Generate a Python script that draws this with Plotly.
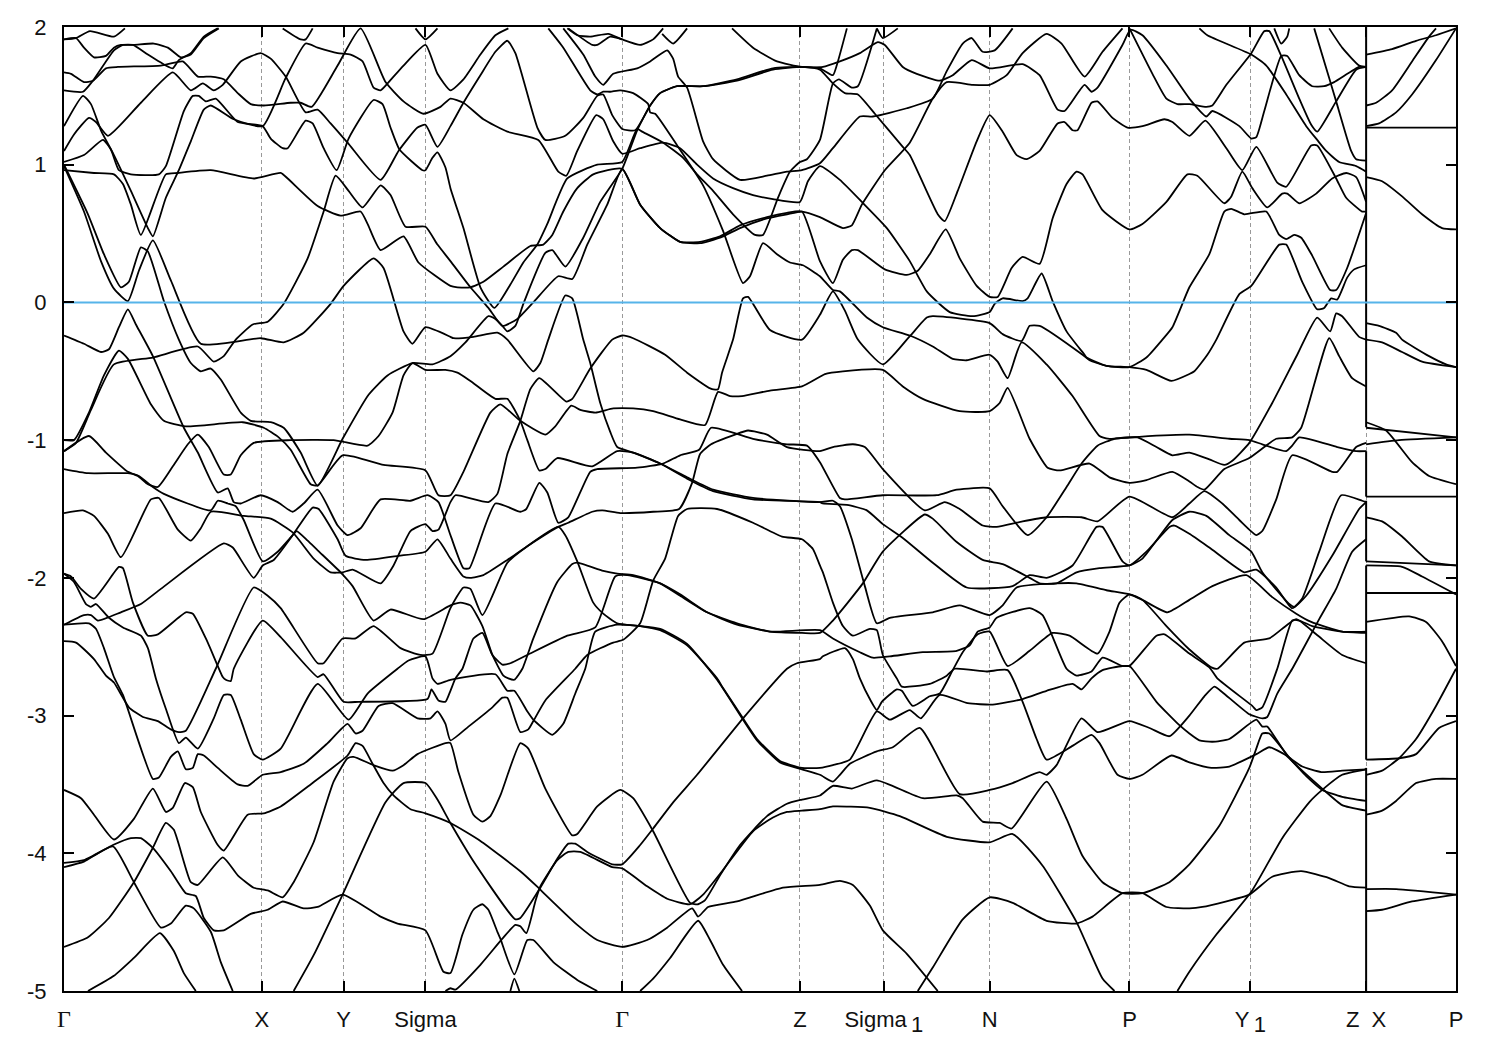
import plotly.graph_objects as go

# Each band is a list of (path position, energy in eV) readings.
band_01 = [(63,1.91),(75,1.92),(89,1.97),(113,1.93),(124,1.99)]
band_02 = [(63,1.91),(75,1.92),(83,1.85),(93,1.78),(105,1.79),(113,1.85),(120,1.87),(133,1.87),(153,1.88),(167,1.85),(180,1.78),(190,1.80),(203,1.92),(218,1.99)]
band_03 = [(63,1.54),(82,1.53),(93,1.62),(113,1.83),(122,1.87),(132,1.87),(147,1.80),(165,1.72),(172,1.70),(178,1.76),(190,1.81),(203,1.93),(217,1.99)]
band_04 = [(63,1.67),(70,1.66),(83,1.60),(92,1.61),(105,1.70),(117,1.71),(160,1.72),(182,1.75),(197,1.64),(210,1.64),(223,1.62),(237,1.52),(250,1.44),(263,1.43),(290,1.45),(300,1.45),(311,1.42),
           (337,1.72),(360,1.99),(385,1.60),(403,1.46),(423,1.37),(440,1.42),(450,1.48),
           (463,1.45),(483,1.33),(507,1.24),(538,1.18),(558,.95),(566,.92),(577,1.10),(596,1.36),(603,1.33),(613,1.17),(622,1.08),(640,1.12),(663,1.16),(680,1.12),(697,1.0),(713,.90),(733,.83),(753,.78),(773,.75),(800,.73),(808,.88),(820,.99),
           (840,.89),(862,.73),(887,.54),(910,.30),(927,.08),(950,-.07),(973,-.10),(990,-.07),(995,-.01),(1003,.03),(1023,.01),(1028,.03),(1042,.21),(1053,.01),(1067,-.21),(1085,-.38),(1087,-.40),(1107,-.46),(1130,-.47),(1147,-.40),(1163,-.27),(1173,-.18),(1190,.11),
           (1210,.35),(1225,.66),(1232,.68),(1245,.64),(1267,.66),(1280,.49),(1287,.46),(1295,.49),(1302,.47),(1313,.34),(1331,.09),(1337,.09),(1348,.25),(1367,.65)]
band_05 = [(63,1.28),(82,1.50),(90,1.44),(100,1.25),(113,1.07),(130,.81),(147,.54),(152,.48),(165,.76),(178,.96),(190,1.17),(203,1.40),(210,1.43),(233,1.33),(262,1.28),
           (285,1.63),(305,1.88),(317,1.85),(337,1.81),(350,1.80),(362,1.75),(373,1.56),(380,1.54),(387,1.59),(403,1.72),(425,1.87),(437,1.66),(450,1.54),(463,1.62),(480,1.80),(495,1.94),(508,1.99)]
band_06 = [(63,1.02),(83,1.07),(102,1.18),(110,1.11),(118,.96),(130,.93),(158,.93),(165,.99),(183,1.39),(192,1.50),(198,1.50),(205,1.46),(215,1.48),(237,1.31),(262,1.28),
           (270,1.19),(282,1.12),(287,1.12),(305,1.32),(312,1.30),(323,1.12),(336,.96),(348,1.19),(373,1.47),(382,1.44),(390,1.27),(399,1.11),(422,.96),(425,.96),(432,1.05),(437,1.09),(445,.98),(450,.83),
           (463,.54),(480,.11),(494,-.04),(510,.13),(523,.29),(537,.42),(547,.57),(567,.90),(597,1.0),(622,1.02),(637,1.26),(642,1.24),(663,1.16),(683,1.05),(697,.93),(713,.81),(733,.64),(755,.49),(763,.49),(778,.76),(790,.95),(800,1.02),(807,1.04),(820,1.18),
           (833,1.59),(839,1.62),(852,1.56),(858,1.57),(877,1.99)]
band_07 = [(877,1.99),(883,1.92),(898,1.99)]
band_08 = [(63,.96),(93,.94),(113,.93),(122,.86),(130,.71),(140,.49),(165,.93),(177,.94),(210,.96),(253,.90),(280,.94),(287,.90),(317,.70),(340,.63),(360,.66),(367,.57),(380,.38),(403,.48),(418,.29),(450,.12),
           (457,.11),(470,.11),(483,.15),(503,.26),(530,.41),(543,.42),(552,.49),(563,.66),(577,.83),(593,.93),(622,.97),(640,.71),(660,.54),(680,.44),(700,.44),(720,.48),(740,.56),(767,.62),(787,.65),(802,.66),
           (820,.30),(833,.14),(843,.31),(852,.38),(858,.38),(885,.24),(907,.20),(918,.23),(930,.35),(946,.53),(960,.32),(977,.12),(990,.04),(998,.04),(1012,.25),(1023,.33),(1040,.28),(1053,.61),(1067,.86),(1077,.95),(1083,.93),(1103,.67),(1130,.53),(1143,.57),(1167,.73),(1188,.93),
           (1198,.92),(1225,.72),(1232,.77),(1243,.95),(1253,.83),(1268,.69),(1283,.79),(1288,.79),(1300,.72),(1317,.79),(1333,.90),(1347,.94),(1357,.91),(1367,.73)]
band_09 = [(63,1.10),(73,1.22),(88,1.34),(95,1.31),(107,1.21),(140,1.45),(172,1.67),(190,1.54),(202,1.59),(213,1.54),(222,1.58),(240,1.75),(260,1.81),(270,1.77),(285,1.64),(305,1.38),(317,1.40),(330,1.30),(347,1.16),(380,.89),(398,1.10),(417,1.27),(425,1.29),(437,1.13),(450,1.28),
           (463,1.45),(480,1.65),(495,1.82),(507,1.90),(515,1.81),(537,1.27),(545,1.18),(565,1.21),(583,1.34),(597,1.50),(603,1.51),(612,1.36),(622,1.26),(635,1.25),(650,1.43),(660,1.52),(677,1.57),(703,1.57),(737,1.62),(773,1.70),(802,1.71),(820,1.69),
           (833,1.59),(845,1.52),(858,1.51),(875,1.37),(903,1.13),(910,1.07),(938,.64),(945,.59),(958,.81),(977,1.17),(990,1.36),(1003,1.24),(1017,1.07),(1027,1.04),(1040,1.10),(1058,1.30),(1065,1.31),(1073,1.25),(1078,1.25),(1092,1.45),(1098,1.46),(1113,1.34),(1128,1.27),(1143,1.28),(1165,1.33),(1173,1.31),(1190,1.21),
           (1206,1.32),(1227,1.12),(1243,.96),(1257,1.13),(1278,.87),(1287,.84),(1312,1.14),(1318,1.14),(1337,.90),(1347,.76),(1363,.66),(1367,.66)]
band_10 = [(63,-1.08),(75,-1.02),(90,-.78),(113,-.45),(152,-.40),(197,-.32),(213,-.43),(223,-.39),(235,-.27),(252,-.16),(267,-.14),(283,-.01),(307,.32),(323,.66),(335,.92),(348,.81),(362,.69),(380,.85),(390,.78),(405,.55),(425,.55),(437,.42),(450,.30),
           (470,.11),(488,-.04),(502,-.17),(517,-.12),(533,0),(558,.19),(572,.17),(587,.42),(607,.71),(622,.97),(640,.71),(660,.54),(680,.44),(700,.43),(720,.47),(740,.54),(767,.61),(787,.64),(802,.66),(820,.62),
           (843,.54),(852,.56),(862,.71),(885,.96),(910,1.16),(933,1.48),(947,1.60),(973,1.58),(990,1.58),(1007,1.65),(1023,1.81),(1047,1.95),(1062,1.88),(1085,1.64),(1103,1.82),(1123,1.99)]
band_11 = [(63,.99),(83,.66),(100,.30),(113,.10),(127,.01),(138,.23),(152,.45),(170,.16),(200,-.30),(260,-.26),(283,-.29),(303,-.22),(330,-.01),(343,.12),(373,.32),(383,.25),(403,-.21),(412,-.30),(425,-.18),(450,-.25),
           (453,-.26),(473,-.25),(497,-.22),(507,-.27),(533,-.50),(540,-.44),(548,-.27),(565,.05),(572,.03),(583,-.27),(590,-.44),(600,-.73),(610,-.94),(617,-1.05),(633,-1.09),(660,-1.17),(687,-1.27),(713,-1.36),(753,-1.42),(820,-1.45),
           (833,-1.44),(840,-1.48),(852,-1.72),(865,-2.06),(877,-2.33),(890,-2.29),(933,-2.25),(960,-2.20),(990,-2.27),(1003,-2.20),(1017,-2.07),(1057,-2.04),(1077,-2.04),(1107,-2.09),(1130,-2.12),(1143,-2.16),(1168,-2.25),(1190,-2.16),
           (1213,-2.06),(1247,-1.98),(1273,-2.14),(1297,-2.26),(1312,-2.32),(1343,-2.39),(1367,-2.39)]
band_12 = [(63,1.0),(87,.64),(103,.35),(120,.11),(128,.15),(140,.40),(147,.37),(163,.01),(178,-.27),(190,-.44),(200,-.50),(210,-.48),(220,-.56),(240,-.80),(250,-.86),(270,-.87),(283,-.91),(300,-1.09),(317,-1.33),(342,-.99),(368,-.67),(387,-.53),(412,-.44),(432,-.45),(450,-.39),
           (465,-.29),(488,-.10),(495,-.12),(502,-.17),(507,-.21),(515,-.17),(523,-.01),(545,.36),(552,.38),(565,.26),(583,.47),(600,.73),(622,.97),(637,1.25),(650,1.43),(660,1.52),(677,1.57),(703,1.57),(737,1.61),(773,1.69),(802,1.71),(820,1.70),(833,1.65),(838,1.75),(847,1.99)]
band_13 = [(63,-.24),(83,-.30),(100,-.36),(108,-.34),(118,-.18),(127,-.05),(135,-.16),(152,-.39),(183,-.91),(197,-1.09),(217,-1.38),(227,-1.35),(233,-1.45),(240,-1.46),(260,-1.40),(277,-1.45),(292,-1.52),(303,-1.46),(317,-1.36),(337,-1.62),(347,-1.69),(360,-1.64),(380,-1.43),(410,-1.44),(427,-1.40),(438,-1.45),(450,-1.69),
           (463,-1.93),(469,-1.93),(495,-1.46),(520,-1.52),(526,-1.50),(539,-1.31),(547,-1.38),(558,-1.60),(568,-1.56),(590,-1.23),(597,-1.21),(637,-1.20),(663,-1.17),(680,-1.11),(699,-1.07),(711,-.91),(753,-.99),(787,-1.03),(807,-1.04),(820,-1.16),
           (840,-1.42),(845,-1.43),(883,-1.40),(937,-1.40),(957,-1.36),(990,-1.35),(1003,-1.48),(1028,-1.69),(1047,-1.56),(1067,-1.34),(1082,-1.17),(1098,-1.04),(1115,-.99),(1130,-.98),(1190,-.96),
           (1230,-.99),(1250,-1.0),(1263,-1.03),(1287,-1.08),(1293,-1.04),(1300,-.98),(1338,-1.05),(1357,-1.08),(1367,-1.08)]
band_14 = [(63,-1.08),(88,-.97),(105,-1.09),(127,-1.23),(137,-1.26),(147,-1.32),(157,-1.34),(172,-1.19),(187,-1.03),(197,-.96),(208,-1.05),(223,-1.25),(230,-1.25),(240,-1.11),(253,-1.02),(290,-1.0),(333,-1.0),(367,-1.04),(378,-.97),(392,-.80),(403,-.53),(412,-.44),
           (425,-.49),(445,-.49),(457,-.51),(470,-.57),(495,-.70),(507,-.70),(520,-.86),(527,-1.0),(539,-1.22),(545,-1.21),(557,-1.13),(592,-1.19),(617,-1.08),(633,-1.09),(660,-1.17),(687,-1.28),(713,-1.37),(753,-1.43),(820,-1.45),
           (823,-1.46),(847,-1.47),(867,-1.51),(883,-1.61),(903,-1.71),(933,-1.89),(967,-2.07),(1013,-2.06),(1030,-1.98),(1047,-2.0),(1073,-1.91),(1097,-1.63),(1103,-1.63),(1123,-1.88),(1130,-1.91),(1147,-1.81),(1170,-1.63),(1175,-1.62),(1190,-1.68),
           (1210,-1.78),(1245,-1.96),(1257,-1.94),(1277,-2.07),(1293,-2.22),(1307,-2.13),(1333,-1.84),(1360,-1.50),(1367,-1.45)]
band_15 = [(63,-1.0),(73,-1.0),(88,-.80),(103,-.53),(118,-.35),(127,-.41),(150,-.74),(163,-.86),(185,-.90),(242,-.87),(263,-.91),(278,-.98),(290,-1.07),(310,-1.32),(317,-1.33),(342,-1.11),(383,-1.18),(425,-1.22),(438,-1.40),(450,-1.40),
           (463,-1.23),(490,-.80),(500,-.74),(520,-.86),(545,-.96),(555,-.90),(571,-.75),(580,-.78),(595,-.80),(613,-.77),(633,-.77),(653,-.79),(680,-.85),(705,-.89),(718,-.65),(730,-.68),(742,-.68),(770,-.64),(802,-.61),(820,-.54),
           (825,-.52),(843,-.50),(883,-.49),(903,-.61),(923,-.70),(960,-.79),(990,-.79),(1000,-.73),(1008,-.62),(1030,-.99),(1048,-1.20),(1060,-1.22),(1090,-1.17),(1110,-1.27),(1130,-1.31),(1147,-1.29),(1173,-1.23),(1190,-1.30),
           (1198,-1.34),(1205,-1.36),(1225,-1.21),(1250,-1.13),(1277,-.99),(1293,-.98),(1302,-.91),(1330,-.26),(1340,-.39),(1353,-.55),(1367,-.61)]
band_16 = [(63,-1.21),(87,-1.24),(127,-1.24),(138,-1.26),(152,-1.34),(163,-1.39),(210,-1.51),(217,-1.44),(227,-1.46),(235,-1.48),(243,-1.58),(262,-1.88),(277,-1.81),(292,-1.69),(296,-1.66),(307,-1.73),(317,-1.80),(340,-1.96),(352,-2.06),(373,-2.31),(390,-2.23),(423,-2.30),(450,-2.20),
           (460,-2.18),(470,-2.20),(482,-2.35),(492,-2.56),(503,-2.71),(508,-2.73),(514,-2.74),(522,-2.66),(533,-2.44),(557,-2.03),(572,-1.90),(577,-1.89),(603,-1.95),(617,-1.97),(633,-1.98),(660,-2.04),(680,-2.13),(707,-2.25),(737,-2.33),(770,-2.39),(820,-2.38),
           (833,-2.44),(860,-2.54),(873,-2.58),(890,-2.57),(923,-2.54),(957,-2.53),(970,-2.49),(978,-2.39),(990,-2.36),(997,-2.29),(1030,-2.22),(1043,-2.27),(1067,-2.66),(1077,-2.71),(1092,-2.68),(1103,-2.58),(1123,-2.64),(1130,-2.64),(1157,-2.90),(1180,-3.07),(1190,-3.13),
           (1200,-3.18),(1213,-3.19),(1230,-3.17),(1257,-3.03),(1263,-3.08),(1268,-3.08),(1288,-3.29),(1303,-3.37),(1322,-3.41),(1343,-3.40),(1367,-3.39)]
band_17 = [(63,-1.53),(82,-1.51),(93,-1.55),(107,-1.68),(120,-1.85),(150,-1.43),(158,-1.42),(177,-1.65),(190,-1.73),(200,-1.64),(210,-1.52),(243,-1.55),(270,-1.57),(292,-1.67),(313,-1.86),(330,-1.96),(342,-1.96),(352,-1.94),(380,-2.04),(393,-1.91),(410,-1.66),(425,-1.61),(432,-1.66),(438,-1.65),(450,-1.45),
           (455,-1.40),(488,-1.45),(497,-1.39),(507,-1.10),(520,-.86),(530,-.63),(539,-.55),(566,-.72),(572,-.70),(590,-.48),(612,-.27),(622,-.24),(633,-.26),(665,-.38),(687,-.51),(712,-.63),(718,-.63),(722,-.51),(733,-.27),(743,.03),(748,.04),(770,-.20),(802,-.27),(820,-.09),
           (833,.08),(845,-.06),(858,-.27),(883,-.45),(907,-.27),(912,-.23),(927,-.11),(933,-.10),(990,-.15),(1003,-.23),(1022,-.28),(1030,-.17),(1040,-.17),(1083,-.38),(1090,-.42),(1107,-.46),(1130,-.47),(1147,-.49),(1172,-.57),(1190,-.52),
           (1195,-.50),(1208,-.38),(1217,-.27),(1240,.06),(1252,.12),(1280,.42),(1287,.42),(1303,.15),(1318,-.05),(1325,-.04),(1332,.03),(1338,.02),(1348,.18),(1355,.24),(1367,.27)]
band_18 = [(63,-2.34),(83,-2.27),(90,-2.27),(97,-2.31),(120,-2.25),(140,-2.19),(160,-2.08),(223,-1.75),(232,-1.78),(253,-2.0),(262,-1.91),(273,-1.87),(292,-1.69),(312,-1.49),(318,-1.50),(337,-1.72),(345,-1.84),(365,-1.87),(398,-1.84),(425,-1.81),(437,-1.72),(450,-1.86),
           (463,-1.99),(470,-2.0),(483,-1.98),(507,-1.87),(527,-1.77),(558,-1.63),(568,-1.60),(592,-1.52),(602,-1.51),(620,-1.53),(653,-1.52),(679,-1.50),(692,-1.31),(700,-1.10),(711,-1.03),(735,-.96),(748,-.93),(767,-.96),(787,-1.05),(820,-1.08),
           (833,-1.05),(853,-1.03),(865,-1.05),(883,-1.21),(925,-1.51),(945,-1.45),(960,-1.50),(983,-1.62),(997,-1.63),(1023,-1.59),(1047,-1.56),(1082,-1.56),(1098,-1.59),(1130,-1.41),(1173,-1.56),(1190,-1.46),
           (1205,-1.37),(1223,-1.46),(1240,-1.58),(1257,-1.69),(1263,-1.66),(1277,-1.43),(1293,-1.11),(1333,-1.23),(1338,-1.23),(1357,-1.05),(1367,-1.02)]
band_19 = [(63,-1.97),(70,-1.99),(80,-2.08),(93,-2.15),(118,-1.92),(122,-1.93),(132,-2.18),(147,-2.42),(157,-2.41),(185,-2.25),(192,-2.26),(207,-2.47),(222,-2.72),(225,-2.74),(230,-2.75),(233,-2.66),(262,-2.31),(280,-2.43),(317,-2.72),(323,-2.70),(343,-2.90),(358,-2.90),(427,-2.88),(431,-2.81),(438,-2.89),(445,-2.90),(450,-2.82),
           (455,-2.73),(462,-2.66),(473,-2.44),(482,-2.40),(492,-2.56),(502,-2.63),(510,-2.62),(527,-2.56),(567,-2.42),(595,-2.36),(615,-1.99),(627,-1.98),(660,-2.04),(680,-2.12),(707,-2.25),(737,-2.34),(770,-2.39),(802,-2.40),(820,-2.40),
           (833,-2.31),(863,-2.04),(883,-1.81),(925,-1.54),(933,-1.57),(957,-1.74),(983,-1.87),(1003,-1.90),(1030,-2.0),(1040,-2.04),(1057,-2.04),(1077,-1.96),(1100,-1.93),(1130,-1.91),(1143,-1.86),(1173,-1.58),(1190,-1.52),
           (1207,-1.55),(1230,-1.69),(1252,-1.81),(1263,-1.96),(1290,-2.19),(1295,-2.21),(1303,-2.15),(1320,-1.81),(1342,-1.40),(1363,-1.44),(1367,-1.45)]
band_20 = [(63,-1.97),(73,-2.03),(85,-2.19),(90,-2.21),(95,-2.19),(108,-2.29),(122,-2.36),(140,-2.42),(147,-2.51),(155,-2.73),(165,-2.95),(178,-3.2),(185,-3.16),(197,-3.24),(213,-3.02),(223,-2.85),(230,-2.85),(240,-3.03),(253,-3.28),(262,-3.32),(280,-3.24),(317,-2.77),(348,-3.03),(367,-2.84),(397,-2.66),(408,-2.60),(425,-2.57),(432,-2.73),(437,-2.77),(450,-2.74),
           (495,-2.70),(507,-2.82),(514,-2.82),(527,-2.97),(533,-3.03),(552,-3.14),(563,-3.06),(575,-2.84),(585,-2.66),(595,-2.39),(617,-2.34),(640,-2.35),(660,-2.37),(687,-2.48),(717,-2.74),(743,-3.03),(757,-3.18),(780,-3.34),(802,-3.39),(820,-3.43),
           (833,-3.48),(840,-3.43),(850,-3.35),(877,-3.26),(893,-3.23),(920,-3.09),(960,-3.57),(990,-3.54),(1013,-3.49),(1040,-3.41),(1047,-3.43),(1057,-3.36),(1082,-3.02),(1098,-3.12),(1130,-3.04),(1150,-3.09),(1170,-3.15),(1190,-3.0),
           (1205,-2.86),(1215,-2.79),(1223,-2.83),(1250,-2.99),(1263,-3.02),(1268,-3.01),(1278,-2.84),(1293,-2.66),(1320,-2.30),(1337,-2.08),(1353,-1.81),(1367,-1.72)]
band_21 = [(63,-2.34),(88,-2.33),(95,-2.37),(103,-2.51),(113,-2.72),(122,-2.85),(152,-3.46),(158,-3.45),(170,-3.30),(177,-3.26),(185,-3.39),(192,-3.38),(197,-3.28),(203,-3.29),(217,-3.38),(237,-3.50),(247,-3.51),(262,-3.43),(280,-3.41),(303,-3.35),(327,-3.20),(347,-3.06),(355,-3.13),(362,-3.11),(378,-2.93),(392,-2.91),(417,-3.02),(430,-3.02),(437,-2.97),(445,-3.06),(450,-3.18),
           (468,-3.08),(492,-2.94),(502,-2.87),(507,-2.87),(520,-3.12),(528,-3.10),(533,-3.04),(545,-2.89),(575,-2.66),(587,-2.56),(613,-2.47),(623,-2.45),(640,-2.33),(653,-2.02),(665,-1.86),(678,-1.55),(687,-1.50),(717,-1.50),(753,-1.60),(782,-1.70),(802,-1.72),(813,-1.79),(820,-1.91),
           (823,-1.96),(833,-2.18),(843,-2.35),(853,-2.42),(870,-2.37),(877,-2.38),(883,-2.56),(897,-2.73),(902,-2.79),(930,-2.77),(947,-2.71),(955,-2.66),(987,-2.68),(1008,-2.67),(1023,-2.90),(1037,-3.17),(1047,-3.32),(1073,-3.22),(1092,-3.14),(1100,-3.20),(1118,-3.43),(1130,-3.46),(1143,-3.43),(1172,-3.29),(1190,-3.34),
           (1212,-3.38),(1230,-3.37),(1257,-3.28),(1270,-3.23),(1287,-3.29),(1307,-3.44),(1323,-3.54),(1343,-3.59),(1367,-3.62)]
band_22 = [(63,-2.46),(75,-2.47),(93,-2.59),(105,-2.71),(113,-2.76),(128,-2.94),(142,-3.01),(157,-3.04),(170,-3.10),(178,-3.12),(185,-3.11),(215,-2.66),(253,-2.07),(267,-2.13),(280,-2.22),(317,-2.62),(323,-2.62),(342,-2.44),(355,-2.44),(373,-2.35),(400,-2.51),(420,-2.56),(432,-2.55),(450,-2.22),
           (463,-2.07),(470,-2.08),(482,-2.27),(507,-1.89),(527,-1.77),(558,-1.63),(565,-1.69),(577,-1.88),(593,-2.18),(603,-2.26),(617,-2.33),(640,-2.35),(660,-2.38),(687,-2.49),(717,-2.73),(723,-2.80),(743,-3.02),(757,-3.17),(780,-3.33),(802,-3.38),(820,-3.38),
           (833,-3.36),(850,-3.32),(877,-2.97),(890,-3.03),(910,-2.96),(921,-3.02),(940,-2.85),(968,-2.91),(993,-2.92),(1023,-2.88),(1047,-2.82),(1073,-2.77),(1082,-2.81),(1092,-2.73),(1103,-2.67),(1123,-2.64),(1130,-2.64),(1157,-2.42),(1165,-2.41),(1190,-2.55),
           (1210,-2.65),(1218,-2.73),(1253,-2.93),(1257,-2.96),(1263,-2.94),(1278,-2.66),(1293,-2.31),(1300,-2.31),(1313,-2.35),(1343,-2.39),(1367,-2.40)]
band_23 = [(63,-3.54),(80,-3.60),(93,-3.72),(113,-3.90),(133,-3.75),(152,-3.53),(165,-3.70),(172,-3.67),(184,-3.49),(192,-3.52),(200,-3.70),(217,-3.94),(223,-3.98),(247,-3.72),(263,-3.71),(280,-3.66),(310,-3.50),(347,-3.29),(355,-3.20),(362,-3.22),(372,-3.35),(383,-3.49),(393,-3.58),(410,-3.68),(425,-3.71),(450,-3.78),
           (480,-3.91),(520,-4.13),(538,-4.25),(545,-4.30),(577,-4.52),(597,-4.63),(622,-4.68),(647,-4.63),(667,-4.54),(692,-4.40),(698,-4.46),(708,-4.39),(737,-4.35),(783,-4.25),(820,-4.23),
           (840,-4.20),(853,-4.23),(870,-4.38),(883,-4.56),(907,-4.73),(938,-5.0)]
band_24 = [(63,-4.07),(83,-4.05),(112,-3.94),(130,-3.89),(140,-3.89),(152,-3.96),(170,-4.13),(185,-4.29),(195,-4.31),(203,-4.47),(213,-4.56),(223,-4.56),(250,-4.44),(267,-4.41),(282,-4.35),(303,-4.40),(317,-4.39),(342,-4.30),(380,-4.46),(397,-4.51),(425,-4.56),(443,-4.86),(450,-4.87),
           (462,-4.59),(473,-4.41),(482,-4.37),(488,-4.41),(497,-4.57),(500,-4.62),(514,-4.88),(527,-4.63),(533,-4.63),(553,-4.79),(577,-4.92),(597,-5.0)]
band_25 = [(63,-4.10),(83,-4.06),(112,-3.95),(133,-4.21),(160,-4.54),(170,-4.51),(185,-4.38),(193,-4.40),(210,-4.57),(220,-4.79),(232,-5.0)]
band_26 = [(63,-4.68),(87,-4.61),(108,-4.47),(133,-4.21),(152,-3.96),(165,-3.78),(173,-3.83),(190,-4.21),(197,-4.23),(222,-4.03),(237,-4.16),(253,-4.25),(267,-4.27),(282,-4.32),(293,-4.21),(313,-3.92),(333,-3.48),(347,-3.31),(353,-3.30),(373,-3.36),(392,-3.40),(403,-3.36),(417,-3.28),(445,-3.20),(450,-3.20),
           (458,-3.41),(473,-3.72),(482,-3.77),(490,-3.73),(500,-3.58),(520,-3.20),(528,-3.24),(545,-3.53),(572,-3.87),(577,-3.86),(597,-3.66),(620,-3.54),(633,-3.60),(653,-3.84),(690,-4.36),(698,-4.37),(705,-4.34),(720,-4.16),(740,-3.94),(767,-3.73),(787,-3.64),(802,-3.61),(820,-3.58),
           (833,-3.51),(852,-3.53),(877,-3.47),(923,-3.60),(957,-3.58),(963,-3.60),(983,-3.77),(1000,-3.78),(1012,-3.82),(1047,-3.48),(1067,-3.75),(1083,-4.02),(1103,-4.21),(1123,-4.29),(1143,-4.29),(1170,-4.21),(1190,-4.08),
           (1220,-3.80),(1250,-3.38),(1257,-3.24),(1263,-3.13),(1270,-3.13),(1293,-3.33),(1323,-3.53),(1343,-3.65),(1367,-3.69)]
band_27 = [(87,-5.0),(113,-4.89),(133,-4.76),(159,-4.58),(173,-4.71),(183,-4.87),(195,-5.0)]
band_28 = [(293,-5.0),(313,-4.74),(342,-4.30),(385,-3.63),(403,-3.49),(425,-3.49),(437,-3.61),(450,-3.78),(475,-4.08),(515,-4.48),(520,-4.47),(540,-4.25),(557,-4.04),(568,-3.93),(575,-3.93),(587,-3.99),(612,-4.08),(622,-4.08),(640,-3.94),(653,-3.82),(673,-3.63),(697,-3.43),(743,-3.02),(787,-2.66),(797,-2.62),(820,-2.59),
           (823,-2.57),(845,-2.51),(853,-2.59),(860,-2.73),(870,-2.88),(877,-2.96),(882,-2.90),(897,-2.81),(902,-2.82),(913,-2.93),(930,-2.86),(940,-2.84),(953,-2.67),(963,-2.54),(978,-2.41),(990,-2.39),(1008,-2.64),(1030,-2.53),(1053,-2.40),(1070,-2.42),(1098,-2.55),(1110,-2.39),(1120,-2.18),(1130,-2.12),(1143,-2.16),(1167,-2.35),(1190,-2.52),
           (1212,-2.65),(1218,-2.66),(1245,-2.47),(1270,-2.44),(1283,-2.37),(1297,-2.30),(1317,-2.41),(1343,-2.56),(1367,-2.62)]
band_29 = [(445,-5.0),(450,-4.98),(455,-4.99),(480,-4.81),(502,-4.62),(515,-4.52),(520,-4.53),(526,-4.58),(535,-4.35),(540,-4.24),(557,-4.05),(568,-3.99),(580,-3.99),(612,-4.10),(622,-4.11),(647,-4.24),(667,-4.33),(690,-4.37),(703,-4.30),(722,-4.13),(753,-3.84),(773,-3.74),(787,-3.70),(802,-3.69),(820,-3.68),
           (833,-3.66),(870,-3.67),(900,-3.73),(947,-3.88),(990,-3.92),(1013,-3.86),(1043,-4.09),(1077,-4.50),(1103,-4.91),(1115,-5.0)]
band_30 = [(510,-5.0),(514,-4.91),(519,-5.0)]
band_31 = [(640,-5.0),(653,-4.91),(670,-4.76),(698,-4.49),(710,-4.63),(723,-4.81),(742,-5.0)]
band_32 = [(918,-5.0),(933,-4.83),(963,-4.48),(990,-4.32),(1013,-4.36),(1047,-4.49),(1077,-4.51),(1093,-4.46),(1123,-4.29),(1143,-4.29),(1167,-4.39),(1190,-4.40),(1203,-4.39),(1250,-4.30),(1273,-4.17),(1302,-4.13),(1330,-4.18),(1350,-4.24),(1367,-4.25)]
band_33 = [(1178,-5.0),(1190,-4.86),(1217,-4.59),(1252,-4.28),(1283,-3.89),(1310,-3.63),(1323,-3.54),(1343,-3.43),(1367,-3.39)]
band_34 = [(548,1.99),(563,1.85),(590,1.54),(597,1.51),(603,1.53),(610,1.53),(620,1.54),(633,1.52),(648,1.44),(650,1.38),(655,1.37),(677,1.14),(703,.85),(723,.52),(743,.14),(750,.19),(763,.43),(777,.35),(790,.29),(803,.27),(820,.19),
           (833,.09),(840,.08),(867,-.11),(883,-.18),(910,-.24),(933,-.32),(953,-.41),(967,-.42),(990,-.38),(998,-.43),(1008,-.55),(1022,-.29),(1047,-.45),(1073,-.68),(1100,-.97),(1110,-.99),(1138,-.98),(1157,-1.05),(1173,-1.11),(1190,-1.09),
           (1210,-1.14),(1225,-1.18),(1233,-1.15),(1250,-1.02),(1273,-.73),(1298,-.38),(1318,-.11),(1331,-.21),(1337,-.08),(1343,-.10),(1360,-.25),(1367,-.27)]
band_35 = [(563,1.99),(583,1.80),(595,1.64),(603,1.58),(613,1.66),(637,1.70),(650,1.75),(667,1.83),(673,1.77),(678,1.64),(687,1.56),(703,1.17),(713,1.04),(740,.89),(767,.92),(787,.95),(802,.96),(820,1.01),
           (833,1.12),(860,1.35),(873,1.35),(907,1.41),(933,1.48),(947,1.68),(963,1.88),(972,1.92),(983,1.82),(995,1.83),(1013,1.99)]
band_36 = [(567,1.99),(577,1.94),(590,1.93),(608,1.95),(622,1.91),(640,1.87),(653,1.91),(663,1.99)]
band_37 = [(568,1.99),(592,1.87),(597,1.87),(610,1.93),(622,1.91)]
band_38 = [(662,1.95),(673,1.88),(687,1.99)]
band_39 = [(732,1.99),(753,1.85),(777,1.75),(802,1.71),(823,1.71),(840,1.75),(860,1.81),(878,1.89),(885,1.87),(903,1.71),(917,1.66),(940,1.61),(953,1.65),(972,1.76),(990,1.70),(1023,1.73),(1040,1.65),(1058,1.40),(1065,1.39),(1085,1.58),(1092,1.53),(1098,1.56),(1123,1.87),(1131,1.98),(1143,1.94),(1167,1.72),(1190,1.48),
           (1207,1.35),(1213,1.39),(1240,1.28),(1252,1.19),(1257,1.20),(1265,1.39),(1282,1.79),(1288,1.79),(1300,1.65),(1313,1.57),(1325,1.57),(1335,1.60),(1360,1.71),(1367,1.71)]
band_40 = [(1130,1.99),(1153,1.66),(1167,1.48),(1178,1.44),(1190,1.44),(1207,1.42),(1213,1.43),(1227,1.58),(1252,1.81),(1265,1.97),(1270,1.97),(1282,1.79),(1300,1.48),(1312,1.29),(1318,1.24),(1337,1.46),(1357,1.69),(1367,1.71)]
band_41 = [(1200,1.99),(1208,1.94),(1252,1.80),(1267,1.72),(1287,1.51),(1307,1.28),(1318,1.18),(1327,1.10),(1340,1.02),(1357,.99),(1367,.95)]
band_42 = [(1275,1.99),(1282,1.88),(1288,1.93),(1290,1.99)]
band_43 = [(1315,1.99),(1330,1.63),(1337,1.46),(1352,1.10),(1357,1.04),(1367,1.03)]
band_44 = [(1330,1.99),(1343,1.85),(1360,1.72),(1367,1.71)]
band_45 = [(282,1.99),(300,1.91),(305,1.91),(312,1.99)]
band_46 = [(415,1.99),(425,1.91),(437,1.99)]

# Right-hand panel, X to P
right_01 = [(1367,1.80),(1393,1.84),(1417,1.90),(1437,1.94),(1457,1.99)]
right_02 = [(1367,1.43),(1377,1.45),(1393,1.54),(1413,1.75),(1430,1.93),(1437,1.99)]
right_03 = [(1367,1.28),(1380,1.30),(1397,1.38),(1413,1.51),(1437,1.76),(1457,1.99)]
right_04 = [(1367,1.27),(1457,1.27)]
right_05 = [(1367,.91),(1383,.88),(1403,.77),(1423,.64),(1443,.54),(1457,.53)]
right_06 = [(1367,-.15),(1380,-.17),(1397,-.22),(1403,-.27),(1430,-.39),(1447,-.45),(1457,-.47)]
right_07 = [(1367,-.27),(1383,-.29),(1403,-.36),(1423,-.43),(1457,-.47)]
right_08 = [(1367,-.87),(1387,-.93),(1413,-1.16),(1430,-1.26),(1457,-1.32)]
right_09 = [(1367,-.91),(1457,-.98)]
right_10 = [(1367,-1.03),(1400,-1.0),(1457,-.98)]
right_11 = [(1367,-1.41),(1457,-1.41)]
right_12 = [(1367,-1.56),(1383,-1.59),(1403,-1.70),(1430,-1.88),(1457,-1.91)]
right_13 = [(1367,-1.88),(1457,-1.91)]
right_14 = [(1367,-1.91),(1403,-1.92),(1423,-1.99),(1457,-2.12)]
right_15 = [(1367,-2.11),(1457,-2.11)]
right_16 = [(1367,-2.32),(1410,-2.28),(1427,-2.32),(1443,-2.46),(1457,-2.64)]
right_17 = [(1367,-3.43),(1383,-3.40),(1400,-3.31),(1417,-3.17),(1437,-2.93),(1457,-2.66)]
right_18 = [(1367,-3.32),(1400,-3.31),(1417,-3.28),(1440,-3.09),(1457,-3.04)]
right_19 = [(1367,-3.72),(1383,-3.69),(1397,-3.62),(1417,-3.49),(1437,-3.46),(1457,-3.46)]
right_20 = [(1367,-4.26),(1397,-4.26),(1457,-4.30)]
right_21 = [(1367,-4.42),(1383,-4.41),(1413,-4.35),(1457,-4.30)]

# Jumps between the two panels at the Z|X position
jump_energies = [(2.0,-.906),(-1.08,-1.41),(-1.44,-1.88),(-1.91,-3.32),(-3.38,-5.0)]

tick_positions = [63,261,343,425,622,800,884,990,1130,1251,1367,1457]
tick_labels = ['<span style="font-family:Liberation Serif;font-size:24px">Γ</span>','X','Y','Sigma',
               '<span style="font-family:Liberation Serif;font-size:24px">Γ</span>','Z','Sigma<sub> <span style="font-size:22px">1</span></sub>','N','P',
               'Y<sub> <span style="font-size:22px">1</span></sub>','Z\u00a0\u00a0X','P']
energy_ticks = [2,1,0,-1,-2,-3,-4,-5]
fermi_level = 0

bands = [band_01,band_02,band_03,band_04,band_05,band_06,band_07,band_08,band_09,band_10,band_11,band_12,
         band_13,band_14,band_15,band_16,band_17,band_18,band_19,band_20,band_21,band_22,band_23,band_24,
         band_25,band_26,band_27,band_28,band_29,band_30,band_31,band_32,band_33,band_34,band_35,band_36,
         band_37,band_38,band_39,band_40,band_41,band_42,band_43,band_44,band_45,band_46,
         right_01,right_02,right_03,right_04,right_05,right_06,right_07,right_08,right_09,right_10,right_11,
         right_12,right_13,right_14,right_15,right_16,right_17,right_18,right_19,right_20,right_21]

fig = go.Figure()
for band in bands:
    fig.add_trace(go.Scatter(x=[p[0] for p in band], y=[p[1] for p in band], mode='lines',
                             line=dict(color='black', width=1.8, shape='spline', smoothing=0.5),
                             hoverinfo='skip', showlegend=False))
for top, bottom in jump_energies:
    fig.add_trace(go.Scatter(x=[tick_positions[10]]*2, y=[top, bottom], mode='lines',
                             line=dict(color='black', width=2), hoverinfo='skip', showlegend=False))
fig.add_trace(go.Scatter(x=[tick_positions[0], tick_positions[-1]], y=[fermi_level]*2, mode='lines',
                         line=dict(color='#56B4E9', width=2), hoverinfo='skip', showlegend=False))

font = dict(family='Liberation Sans, Arial, sans-serif', size=22, color='#111111')
fig.update_layout(width=1500, height=1050, autosize=False, plot_bgcolor='white', paper_bgcolor='white',
                  margin=dict(l=56, r=52, t=19, b=67, autoexpand=False), showlegend=False, font=font)
fig.update_xaxes(range=[63,1457], tickmode='array', tickvals=tick_positions, ticktext=tick_labels,
                 ticks='inside', ticklen=10, tickwidth=1.5, tickcolor='black', tickfont=font,
                 ticklabelstandoff=8,
                 showline=True, linecolor='black', linewidth=2, mirror='ticks', zeroline=False,
                 showgrid=True, gridcolor='#999999', griddash='4px,3px', gridwidth=1)
fig.update_yaxes(range=[-5,2], tickmode='array', tickvals=energy_ticks, ticktext=[str(v) for v in energy_ticks],
                 ticks='inside', ticklen=10, tickwidth=1.5, tickcolor='black', tickfont=font,
                 ticklabelstandoff=11,
                 showline=True, linecolor='black', linewidth=2, mirror='ticks', zeroline=False, showgrid=False)
fig.write_html("out.html")
